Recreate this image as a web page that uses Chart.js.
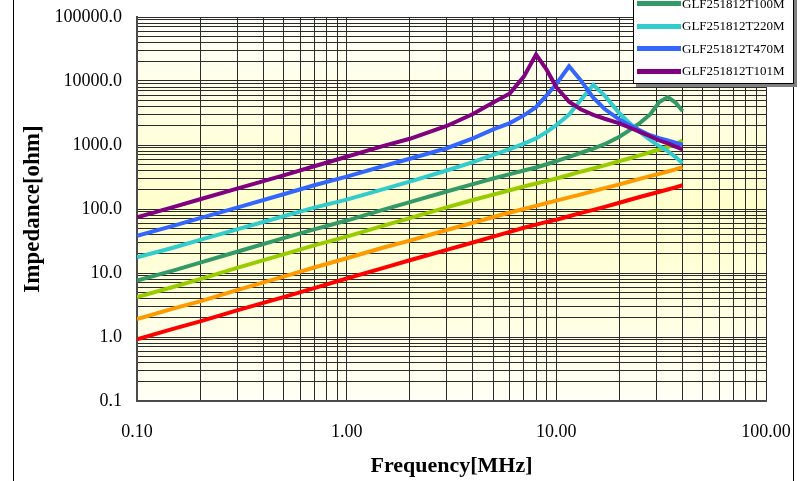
<!DOCTYPE html>
<html>
<head>
<meta charset="utf-8">
<script src="https://cdn.jsdelivr.net/npm/chart.js@4.4.1/dist/chart.umd.min.js"></script>
<style>
  html, body { margin: 0; padding: 0; background: #fff; }
  #wrap { position: relative; width: 804px; height: 481px; overflow: hidden; }
  .frame { position: absolute; top: 0; bottom: 0; width: 1px; background: #000; }
  #legend {
    position: absolute; left: 633px; top: -76px; width: 159px;
    background: #fff; border: 1px solid #000; box-shadow: 3px 3px 0 #808080;
    font-family: 'Liberation Serif', 'Times New Roman', serif; font-size: 13px; color: #000;
  }
  .row { height: 22.5px; display: flex; align-items: center; white-space: nowrap; }
  .swatch { width: 44px; height: 5px; margin-left: 3px; margin-right: 1px; }
</style>
</head>
<body>
<div id="wrap">
  <canvas id="impChart" width="804" height="481"></canvas>
  <div class="frame" style="left:13px"></div>
  <div class="frame" style="left:793px"></div>
  <div id="legend"></div>
</div>
<script>
// measured sweep, MHz
const freqMHz = [0.1, 0.15, 0.2, 0.3, 0.5, 0.7, 1, 1.5, 2, 3, 4, 5, 6, 7, 8, 9, 10, 11.5, 13, 15, 17, 20, 22, 25, 28, 31, 34, 37, 40];

// impedance, ohm
const z1R0 = [0.92, 1.35, 1.75, 2.6, 4.2, 5.8, 8.2, 12, 15.8, 23, 30, 37, 44, 51, 57, 63, 68, 77, 86, 97, 108, 125, 137, 154, 170, 186, 202, 218, 235];
const z2R2 = [1.9, 2.8, 3.6, 5.4, 8.8, 12.2, 17, 25, 32, 47, 61, 75, 88, 100, 112, 124, 135, 152, 168, 190, 212, 243, 264, 295, 326, 355, 385, 415, 450];
const z4R7 = [4.2, 6.1, 8, 12, 19.5, 27, 37, 55, 72, 106, 138, 168, 196, 225, 250, 275, 300, 340, 380, 430, 480, 560, 610, 690, 770, 850, 930, 1030, 1180];
const z100 = [7.6, 11, 14.5, 21.5, 35, 48, 66, 98, 128, 188, 245, 300, 350, 400, 445, 500, 560, 650, 750, 880, 1030, 1350, 1650, 2200, 3000, 4700, 5600, 4600, 3400];
const z220 = [17.6, 25, 33, 48, 77, 105, 140, 205, 268, 400, 540, 700, 860, 1050, 1270, 1600, 2050, 3000, 4900, 8700, 5900, 3130, 2300, 1600, 1200, 960, 800, 650, 520];
const z470 = [38, 55, 72, 105, 170, 235, 320, 470, 610, 890, 1270, 1750, 2200, 2900, 3900, 6000, 9000, 17000, 10500, 5500, 3650, 2500, 2100, 1700, 1420, 1280, 1180, 1090, 1010];
const z101 = [74, 108, 142, 208, 335, 465, 656, 970, 1250, 1980, 3050, 4600, 6400, 11700, 26000, 14900, 8000, 4760, 3650, 2960, 2570, 2180, 1910, 1600, 1370, 1175, 1057, 946, 853];

const seriesNames = ['GLF251812T1R0M', 'GLF251812T2R2M', 'GLF251812T4R7M', 'GLF251812T100M', 'GLF251812T220M', 'GLF251812T470M', 'GLF251812T101M'];
const seriesValues = [z1R0, z2R2, z4R7, z100, z220, z470, z101];
const seriesColors = ['#ff0000', '#ff9900', '#99cc00', '#339966', '#33cccc', '#3366ff', '#800080'];

const xTickValues = [0.1, 1, 10, 100];
const xTickLabels = ['0.10', '1.00', '10.00', '100.00'];
const yTickValues = [0.1, 1, 10, 100, 1000, 10000, 100000];
const yTickLabels = ['0.1', '1.0', '10.0', '100.0', '1000.0', '10000.0', '100000.0'];

const serif = "'Liberation Serif', 'Times New Roman', serif";

// 1..9 per decade, no 1.5 steps
function decadeTicks(minExp, maxExp) {
  const out = [];
  for (let e = minExp; e < maxExp; e++) {
    for (let m = 1; m <= 9; m++) out.push({ value: m * Math.pow(10, e) });
  }
  out.push({ value: Math.pow(10, maxExp) });
  return out;
}

function labelFor(values, labels) {
  return (value) => {
    const i = values.findIndex((v) => Math.abs(v - value) / v < 1e-6);
    return i < 0 ? '' : labels[i];
  };
}

const plotBackground = {
  id: 'plotBackground',
  beforeDraw(chart) {
    const { ctx, chartArea: a } = chart;
    const g = ctx.createLinearGradient(0, a.top, 0, a.bottom);
    g.addColorStop(0, '#fffffa');
    g.addColorStop(0.5, '#ffffcc');
    g.addColorStop(1, '#fffff6');
    ctx.save();
    ctx.fillStyle = g;
    ctx.fillRect(a.left, a.top, a.right - a.left, a.bottom - a.top);
    ctx.restore();
  },
};

Chart.defaults.font.family = serif;
Chart.defaults.color = '#000';

new Chart(document.getElementById('impChart'), {
  type: 'line',
  data: {
    datasets: seriesNames.map((name, i) => ({
      label: name,
      data: freqMHz.map((f, k) => ({ x: f, y: seriesValues[i][k] })),
      borderColor: seriesColors[i],
      borderWidth: 4,
      pointRadius: 0,
      tension: 0,
      fill: false,
      order: seriesNames.length - i,
    })),
  },
  options: {
    responsive: false,
    animation: false,
    layout: { padding: { top: 17, right: 38, left: 0, bottom: 0 } },
    plugins: { legend: { display: false }, tooltip: { enabled: false } },
    scales: {
      x: {
        type: 'logarithmic',
        min: 0.1,
        max: 100,
        afterBuildTicks: (s) => { s.ticks = decadeTicks(-1, 2); },
        afterFit: (s) => {
          s.height = 80;
          s.paddingLeft = 0;
          s.paddingRight = 0;
        },
        ticks: {
          autoSkip: false,
          maxRotation: 0,
          padding: 20,
          font: { size: 18 },
          callback: labelFor(xTickValues, xTickLabels),
        },
        grid: { color: '#2a2a2a', lineWidth: 1, drawTicks: false },
        border: { color: '#4a4a4a', width: 2 },
        title: {
          display: true,
          text: 'Frequency[MHz]',
          font: { size: 22, weight: 'bold' },
          padding: { top: 0, bottom: 1 },
        },
      },
      y: {
        type: 'logarithmic',
        min: 0.1,
        max: 100000,
        afterBuildTicks: (s) => { s.ticks = decadeTicks(-1, 5); },
        afterFit: (s) => {
          s.width = 137;
          s.paddingTop = 0;
          s.paddingBottom = 0;
        },
        ticks: {
          autoSkip: false,
          padding: 15,
          font: { size: 18 },
          callback: labelFor(yTickValues, yTickLabels),
        },
        grid: { color: '#2a2a2a', lineWidth: 1, drawTicks: false },
        border: { color: '#4a4a4a', width: 2 },
        title: {
          display: true,
          text: 'Impedance[ohm]',
          font: { size: 23, weight: 'bold' },
          padding: { top: 19, bottom: 0 },
        },
      },
    },
  },
  plugins: [plotBackground],
});

// legend box, top rows sit above the page like in the source
const legendEl = document.getElementById('legend');
seriesNames.forEach((name, i) => {
  const row = document.createElement('div');
  row.className = 'row';
  const sw = document.createElement('span');
  sw.className = 'swatch';
  sw.style.background = seriesColors[i];
  const txt = document.createElement('span');
  txt.textContent = name;
  row.appendChild(sw);
  row.appendChild(txt);
  legendEl.appendChild(row);
});
</script>
</body>
</html>
